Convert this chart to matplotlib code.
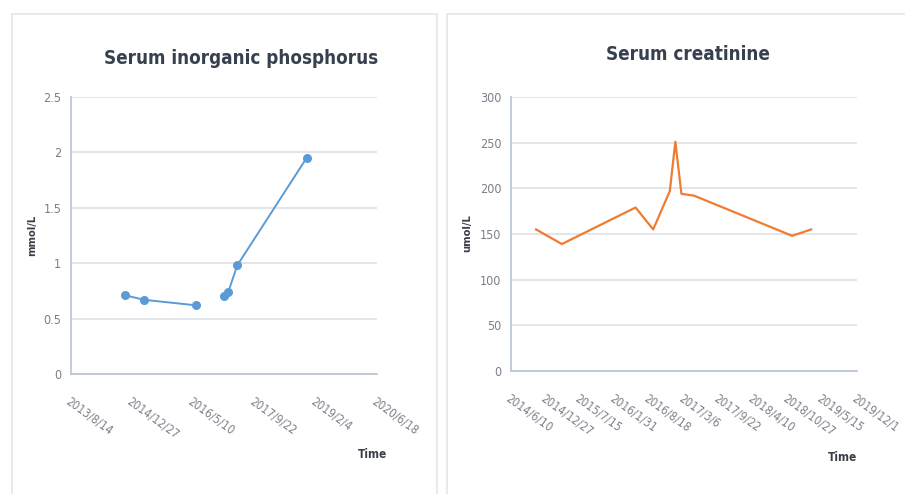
import matplotlib
matplotlib.use("Agg")
import matplotlib.pyplot as plt
import matplotlib.dates as mdates
import numpy as np
import pandas as pd
from matplotlib.lines import Line2D

# shared sampling dates
dates = ["2014/11/2", "2015/3/31", "2016/5/30", "2016/9/9", "2016/12/14",
         "2017/1/15", "2017/2/19", "2017/5/3", "2018/11/21", "2019/3/11"]
phosphorus = [0.71, 0.67, 0.62, np.nan, np.nan, 0.70, 0.74, 0.98, 1.95, np.nan]
creatinine = [155, 139, 179, 155, 197, 251, 194, 192, 148, 155]

phos_xticks = ["2013/8/14", "2014/12/27", "2016/5/10", "2017/9/22", "2019/2/4", "2020/6/18"]
creat_xticks = ["2014/6/10", "2014/12/27", "2015/7/15", "2016/1/31", "2016/8/18", "2017/3/6",
                "2017/9/22", "2018/4/10", "2018/10/27", "2019/5/15", "2019/12/1"]
phos_yticks = [0, 0.5, 1, 1.5, 2, 2.5]
phos_ylabels = ["0", "0.5", "1", "1.5", "2", "2.5"]
creat_yticks = [0, 50, 100, 150, 200, 250, 300]

plt.rcParams["font.family"] = ["Liberation Sans Narrow", "DejaVu Sans"]
plt.rcParams["font.stretch"] = "condensed"

W, H = 905, 494
TICK_C = "#7A7F88"
TITLE_C = "#36404F"
GRID_C = "#DDE1E8"
AXIS_C = "#B8C2D2"
BORDER_C = "#E4E6EA"


def to_num(strs):
    return mdates.date2num(pd.to_datetime(strs, format="%Y/%m/%d"))


def setup(ax, xticks, yticks, ylabels, ylabel, rot, lab_pad, ylab_xy, time_xy):
    xt = to_num(xticks)
    ax.set_xlim(xt[0], xt[-1])
    ax.set_ylim(yticks[0], yticks[-1])
    ax.set_xticks(xt)
    ax.set_xticklabels(xticks, rotation=rot, ha="left", va="top",
                       rotation_mode="anchor", fontsize=8.5, color=TICK_C)
    ax.set_yticks(yticks)
    ax.set_yticklabels(ylabels, fontsize=9, color=TICK_C)
    ax.tick_params(axis="x", length=0, pad=lab_pad)
    ax.tick_params(axis="y", length=0, pad=7)
    ax.grid(axis="y", color=GRID_C, linewidth=1.2)
    ax.set_axisbelow(True)
    for s in ["top", "right"]:
        ax.spines[s].set_visible(False)
    for s in ["left", "bottom"]:
        ax.spines[s].set_color(AXIS_C)
        ax.spines[s].set_linewidth(1.2)
    ax.set_ylabel(ylabel, fontsize=8, fontweight="bold", color="#3A3F47")
    ax.yaxis.set_label_coords(*ylab_xy)
    ax.text(time_xy[0], time_xy[1], "Time", transform=ax.transAxes, fontsize=8.5,
            fontweight="bold", color="#3A3F47", ha="center", va="center")


fig = plt.figure(figsize=(W / 100, H / 100), dpi=100)
fig.patch.set_facecolor("white")

# panel frames
for xs, ys in [([12, 12], [494, 14]), ([12, 437], [14, 14]), ([437, 437], [14, 494]),
               ([447, 447], [494, 14]), ([447, 905], [14, 14])]:
    fig.add_artist(Line2D([x / W for x in xs], [1 - y / H for y in ys],
                          transform=fig.transFigure, color=BORDER_C, linewidth=1.2))

x = to_num(dates)

ax1 = fig.add_axes([71 / W, 1 - 374 / H, 306 / W, 277 / H])
setup(ax1, phos_xticks, phos_yticks, phos_ylabels, "mmol/L", -36, 15,
      (-0.111, 0.5), (0.984, -0.292))
ax1.plot(x, phosphorus, color="#5B9BD5", linewidth=1.4, marker="o", markersize=6.5,
         markeredgewidth=0)

ax2 = fig.add_axes([511 / W, 1 - 371 / H, 346 / W, 274 / H])
setup(ax2, creat_xticks, creat_yticks, [str(v) for v in creat_yticks], "umol/L", -36, 15,
      (-0.113, 0.504), (0.957, -0.314))
ax2.plot(x, creatinine, color="#ED7D31", linewidth=1.6)

fig.text(241 / W, 1 - 58 / H, "Serum inorganic phosphorus", fontsize=13.5,
         fontweight="bold", color=TITLE_C, ha="center", va="center")
fig.text(688 / W, 1 - 54 / H, "Serum creatinine", fontsize=13.5,
         fontweight="bold", color=TITLE_C, ha="center", va="center")

fig.savefig("out.png", dpi=100, facecolor="white")
plt.close(fig)
